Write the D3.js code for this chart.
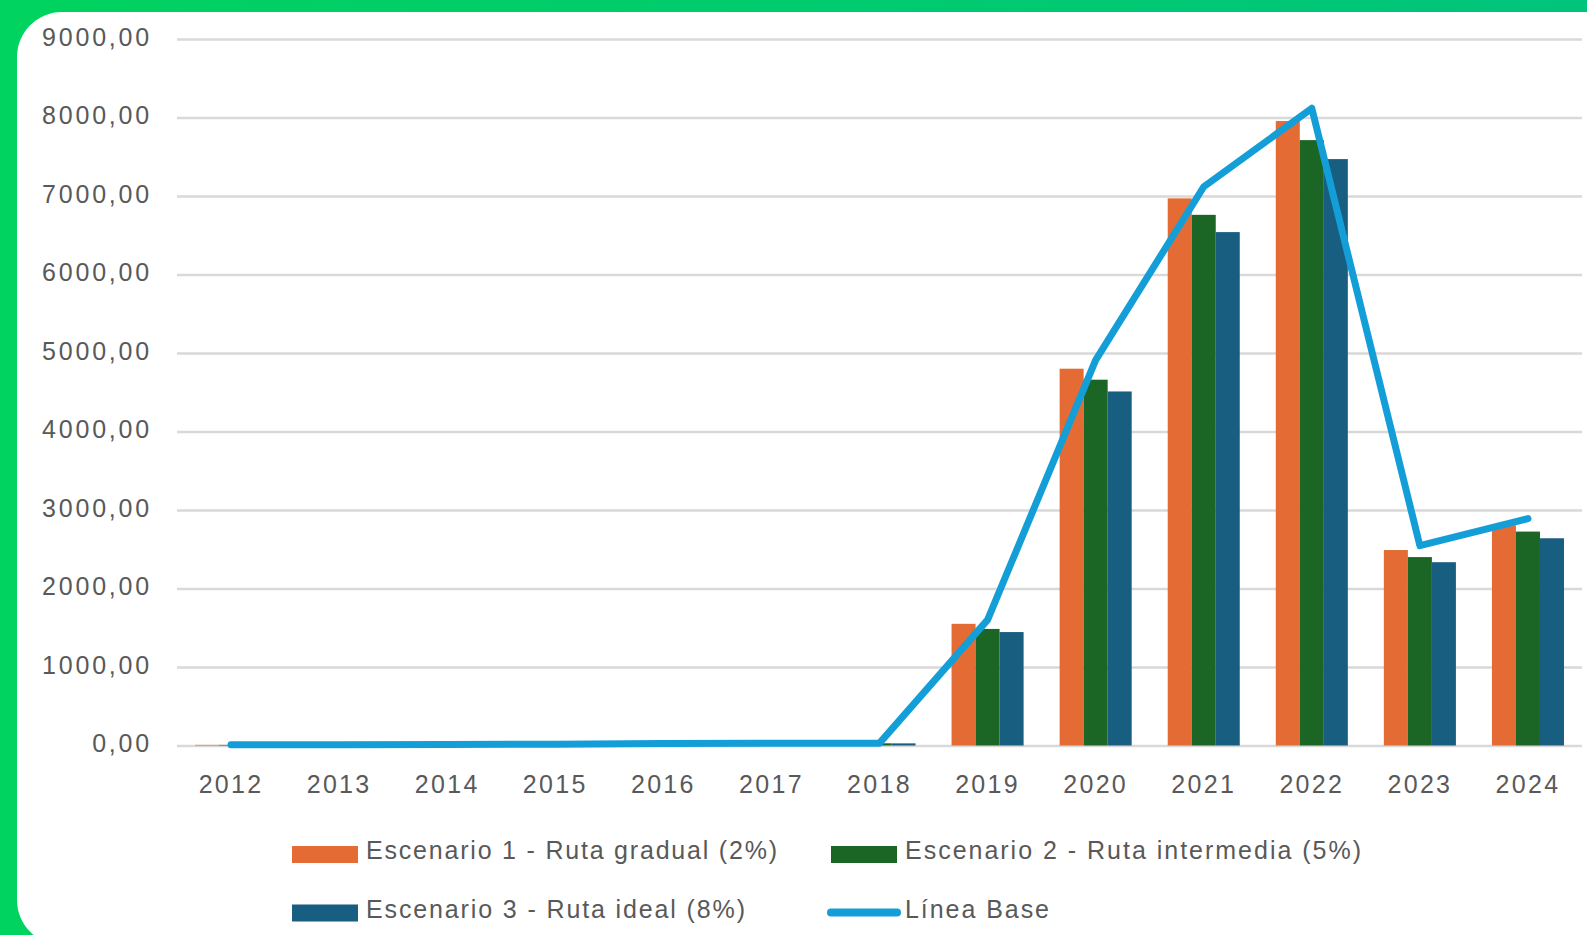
<!DOCTYPE html>
<html>
<head>
<meta charset="utf-8">
<script src="https://cdn.jsdelivr.net/npm/d3@7"></script>
<style>
  html, body { margin: 0; padding: 0; background: #00c878; overflow: hidden; }
  svg { display: block; }
  text { font-family: "Liberation Sans", Arial, sans-serif; fill: #595959; }
</style>
</head>
<body>
<div id="figure_area"></div>
<script>
// ----- ----- ----- ----- ----- ----- ----- ----- -----
// DATA
var years = ["2012", "2013", "2014", "2015", "2016", "2017", "2018", "2019", "2020", "2021", "2022", "2023", "2024"];

var escenario1 = [8, 10, 12, 16, 25, 27, 29, 1550, 4800, 6970, 7955, 2490, 2805];
var escenario2 = [8, 9, 11, 15, 24, 26, 28, 1485, 4660, 6760, 7712, 2400, 2725];
var escenario3 = [7, 9, 11, 14, 23, 25, 27, 1445, 4510, 6540, 7470, 2335, 2640];
var lineaBase = [10, 11, 13, 17, 26, 28, 30, 1600, 4910, 7118, 8117, 2545, 2890];

var yTicks = [0, 1000, 2000, 3000, 4000, 5000, 6000, 7000, 8000, 9000];

var seriesNames = ["Escenario 1 - Ruta gradual (2%)", "Escenario 2 - Ruta intermedia (5%)",
    "Escenario 3 - Ruta ideal (8%)", "Línea Base"];
var seriesColors = ["#e46c34", "#1b6624", "#175e80", "#149ed8"];

// ----- ----- ----- ----- ----- ----- ----- ----- -----
// FIGURE
const figure_size = { width: 1587, height: 935 };
const plot = { left: 177, right: 1582, top: 39, bottom: 745.5 };

var svg = d3.select("#figure_area")
    .append("svg")
    .attr("width", figure_size.width)
    .attr("height", figure_size.height);

// green background + white card
var defs = svg.append("defs");
var grad = defs.append("linearGradient")
    .attr("id", "bg")
    .attr("x1", "0%").attr("y1", "0%")
    .attr("x2", "100%").attr("y2", "0%");
grad.append("stop").attr("offset", "0%").attr("stop-color", "#00d35f");
grad.append("stop").attr("offset", "100%").attr("stop-color", "#00c47c");

svg.append("rect")
    .attr("width", figure_size.width)
    .attr("height", figure_size.height)
    .attr("fill", "url(#bg)");

svg.append("rect")
    .attr("x", 17)
    .attr("y", 12)
    .attr("width", 1620)
    .attr("height", 933)
    .attr("rx", 45)
    .attr("fill", "white");

// X scale
var x_scale = d3.scaleBand()
    .domain(years)
    .range([plot.left, plot.right]);

// three bars per year, gap ~150%
var x_inner = d3.scaleBand()
    .domain([0, 1, 2])
    .range([0, x_scale.bandwidth()])
    .paddingInner(0)
    .paddingOuter(0.75);

// Y scale
var y_scale = d3.scaleLinear()
    .domain([0, 9000])
    .range([plot.bottom, plot.top]);

// gridlines
var y_axis = d3.axisLeft()
    .scale(y_scale)
    .tickValues(yTicks)
    .tickSize(-(plot.right - plot.left))
    .tickPadding(25)
    .tickFormat(function (d) { return d3.format(".2f")(d).replace(".", ","); });

var gy = svg.append("g")
    .attr("transform", "translate(" + plot.left + ",0)")
    .call(y_axis);
gy.select(".domain").remove();
gy.selectAll("line")
    .attr("stroke", "#d9d9d9")
    .attr("stroke-width", 2.6);
gy.selectAll("text")
    .attr("font-size", 25)
    .attr("letter-spacing", 2.8)
    .attr("dy", "0.24em")
    .style("fill", "#595959");

// x axis labels
var x_axis = d3.axisBottom()
    .scale(x_scale)
    .tickSize(0)
    .tickPadding(30);

var gx = svg.append("g")
    .attr("transform", "translate(0," + plot.bottom + ")")
    .call(x_axis);
gx.select(".domain").remove();
gx.selectAll("text")
    .attr("font-size", 25)
    .attr("letter-spacing", 2.3)
    .attr("dy", "0.71em")
    .style("fill", "#595959");

// bars
var barSeries = [escenario1, escenario2, escenario3];
barSeries.forEach(function (values, i) {
    svg.append("g")
        .selectAll("rect")
        .data(values)
        .enter()
        .append("rect")
        .attr("x", function (d, j) { return x_scale(years[j]) + x_inner(i); })
        .attr("y", function (d) { return y_scale(d); })
        .attr("width", x_inner.bandwidth())
        .attr("height", function (d) { return plot.bottom - y_scale(d); })
        .attr("fill", seriesColors[i]);
});

// base line
svg.append("path")
    .datum(lineaBase)
    .attr("fill", "none")
    .attr("stroke", seriesColors[3])
    .attr("stroke-width", 7)
    .attr("stroke-linejoin", "round")
    .attr("stroke-linecap", "round")
    .attr("d", d3.line()
        .x(function (d, j) { return x_scale(years[j]) + x_scale.bandwidth() / 2; })
        .y(function (d) { return y_scale(d); })
    );

// ----- ----- ----- ----- ----- ----- ----- ----- -----
// LEGEND
var legendPos = [
    { x: 292, y: 854 }, { x: 831, y: 854 },
    { x: 292, y: 912.5 }, { x: 827, y: 912.5 }
];
var legendWidth = [411, 456, 379, 144];

var legend = svg.append("g");
seriesNames.forEach(function (name, i) {
    var p = legendPos[i];
    if (i < 3) {
        legend.append("rect")
            .attr("x", p.x)
            .attr("y", p.y - 8)
            .attr("width", 66)
            .attr("height", 17)
            .attr("fill", seriesColors[i]);
    } else {
        legend.append("line")
            .attr("x1", p.x + 4)
            .attr("x2", p.x + 70)
            .attr("y1", p.y)
            .attr("y2", p.y)
            .attr("stroke", seriesColors[i])
            .attr("stroke-width", 8)
            .attr("stroke-linecap", "round");
    }
    legend.append("text")
        .attr("x", i < 3 ? p.x + 74 : p.x + 78)
        .attr("y", p.y + 5)
        .attr("font-size", 25)
        .attr("textLength", legendWidth[i])
        .attr("lengthAdjust", "spacing")
        .text(name);
});
</script>
</body>
</html>
